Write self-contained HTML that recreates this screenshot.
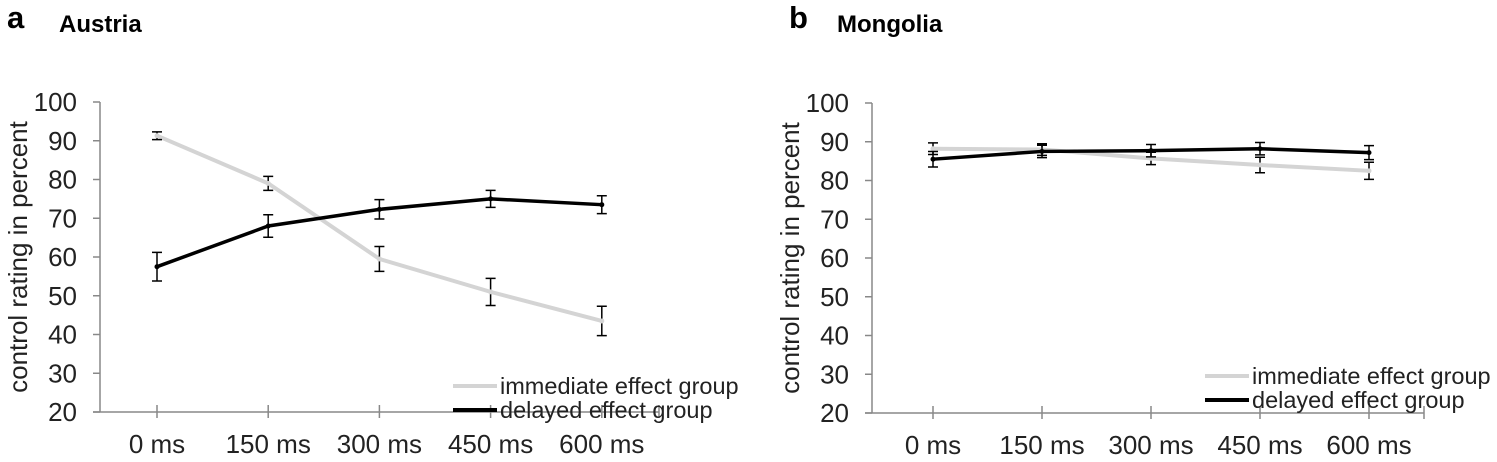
<!DOCTYPE html>
<html><head><meta charset="utf-8"><style>
body{margin:0;background:#fff;}
svg{display:block;font-family:"Liberation Sans",Arial,sans-serif;}
</style></head><body>
<svg id="chart" width="1497" height="462"></svg>
<script>
const categories=["0 ms","150 ms","300 ms","450 ms","600 ms"];
const yTicks=[20,30,40,50,60,70,80,90,100];
const austriaImmediate=[91.3,79,59.5,51,43.5];
const austriaImmediateErr=[1,1.8,3.2,3.5,3.8];
const austriaDelayed=[57.5,68,72.3,75,73.5];
const austriaDelayedErr=[3.7,2.9,2.5,2.2,2.3];
const mongoliaImmediate=[88.2,88,85.7,84,82.5];
const mongoliaImmediateErr=[1.5,1.5,1.6,2,2.2];
const mongoliaDelayed=[85.5,87.5,87.7,88.2,87.2];
const mongoliaDelayedErr=[2,1.6,1.6,1.6,1.8];

const NS="http://www.w3.org/2000/svg";
const svg=document.getElementById('chart');
function mk(tag,attrs,parent){const e=document.createElementNS(NS,tag);for(const k in attrs)e.setAttribute(k,attrs[k]);(parent||svg).appendChild(e);return e;}

const panels=[
 {letter:"a",title:"Austria",lx:7,tx:59,axisX:100,firstX:157,step:111.2,endX:659,top:102,bottom:412,ytx:27,imm:austriaImmediate,immE:austriaImmediateErr,del:austriaDelayed,delE:austriaDelayedErr,legX:453,legY:386,key:"austria"},
 {letter:"b",title:"Mongolia",lx:789,tx:837,axisX:872,firstX:933,step:109,endX:1424,top:103,bottom:413,ytx:799,imm:mongoliaImmediate,immE:mongoliaImmediateErr,del:mongoliaDelayed,delE:mongoliaDelayedErr,legX:1205,legY:376,key:"mongolia"}
];

panels.forEach(p=>{
 const g=mk('g',{});
 
 
 const y=v=>p.bottom-(v-20)/80*(p.bottom-p.top);
 const x=i=>p.firstX+i*p.step;
 let t=mk('text',{x:p.lx,y:28,'font-size':31,'font-weight':'bold',fill:'#000'},g);t.textContent=p.letter;
 
 t=mk('text',{x:p.tx,y:32,'font-size':24,'font-weight':'bold',fill:'#000'},g);t.textContent=p.title;
 
 const ax=mk('line',{x1:p.axisX,y1:p.top,x2:p.axisX,y2:p.bottom,stroke:'#888','stroke-width':1.5},g);
 
 const bx=mk('line',{x1:p.axisX-7,y1:p.bottom,x2:p.endX,y2:p.bottom,stroke:'#888','stroke-width':1.5},g);
 
 yTicks.forEach(v=>{
  mk('line',{x1:p.axisX-7,y1:y(v),x2:p.axisX,y2:y(v),stroke:'#888','stroke-width':1.5},g);
  const l=mk('text',{x:p.axisX-23,y:y(v)+9,'font-size':26,'text-anchor':'end',fill:'#222'},g);l.textContent=v;
  
 });
 mk('line',{x1:p.endX,y1:p.bottom-7,x2:p.endX,y2:p.bottom+6,stroke:'#888','stroke-width':1.5},g);
 categories.forEach((c,i)=>{
  mk('line',{x1:x(i),y1:p.bottom-7,x2:x(i),y2:p.bottom+6,stroke:'#888','stroke-width':1.5},g);
  const l=mk('text',{x:x(i),y:p.bottom+41,'font-size':26,'text-anchor':'middle',fill:'#222'},g);l.textContent=c;
  
 });
 const yt=mk('text',{x:0,y:0,'font-size':26,'text-anchor':'middle',fill:'#222',transform:`translate(${p.ytx},${(p.top+p.bottom)/2}) rotate(-90)`},g);
 yt.textContent='control rating in percent';
 
 function series(vals,errs,color,w,name){
  const pts=vals.map((v,i)=>x(i)+','+y(v)).join(' ');
  const pl=mk('polyline',{points:pts,fill:'none',stroke:color,'stroke-width':w},g);
  
  vals.forEach((v,i)=>{
   const e=mk('path',{d:`M${x(i)} ${y(v+errs[i])}V${y(v-errs[i])}M${x(i)-5} ${y(v+errs[i])}h10M${x(i)-5} ${y(v-errs[i])}h10`,stroke:'#000','stroke-width':1.5,fill:'none'},g);
   
   const d=mk('circle',{cx:x(i),cy:y(v),r:2.5,fill:color},g);
   
  });
 }
 series(p.imm,p.immE,'#d4d4d4',4,'immediate');
 series(p.del,p.delE,'#000',3.5,'delayed');
 [['immediate effect group','#d4d4d4'],['delayed effect group','#000']].forEach((L,k)=>{
  const ly=p.legY+k*24;
  const ln=mk('line',{x1:p.legX,y1:ly,x2:p.legX+44,y2:ly,stroke:L[1],'stroke-width':4},g);
  
  const lt=mk('text',{x:p.legX+47,y:ly+8,'font-size':23.5,fill:'#222'},g);lt.textContent=L[0];
  
 });
});
</script>
</body></html>
